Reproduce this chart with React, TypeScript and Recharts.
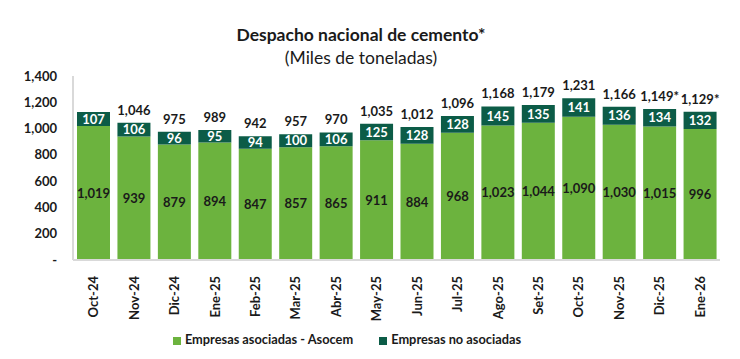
import { BarChart, Bar, XAxis, YAxis, LabelList, Legend } from 'recharts';

const months = ['Oct-24', 'Nov-24', 'Dic-24', 'Ene-25', 'Feb-25', 'Mar-25', 'Abr-25', 'May-25', 'Jun-25', 'Jul-25', 'Ago-25', 'Set-25', 'Oct-25', 'Nov-25', 'Dic-25', 'Ene-26'];
const asociadas = [1019, 939, 879, 894, 847, 857, 865, 911, 884, 968, 1023, 1044, 1090, 1030, 1015, 996];
const noAsociadas = [107, 106, 96, 95, 94, 100, 106, 125, 128, 128, 145, 135, 141, 136, 134, 132];
const totalLabels = ['', '1,046', '975', '989', '942', '957', '970', '1,035', '1,012', '1,096', '1,168', '1,179', '1,231', '1,166', '1,149*', '1,129*'];
const yTicks = [0, 200, 400, 600, 800, 1000, 1200, 1400];

const LIGHT = '#6cb33e';
const DARK = '#0c5c47';
const TEXT = '#1a1a1a';
const FONT = 'Lato, "Noto Sans", sans-serif';

const data = months.map((m, i) => ({
  month: m,
  asociadas: asociadas[i],
  noAsociadas: noAsociadas[i],
  total: totalLabels[i],
}));

const fmt = (v: any) => Number(v).toLocaleString('en-US');

function MonthTick({ x, y, payload }: any) {
  return (
    <text
      x={x}
      y={y}
      transform={`rotate(-90, ${x}, ${y}) translate(-8, 5)`}
      textAnchor="end"
      fontSize={13}
      fontWeight={700}
      fill={TEXT}
      fontFamily={FONT}
    >
      {payload.value}
    </text>
  );
}

export default function App() {
  return (
    <div style={{ position: 'absolute', left: 0, top: 0, width: 740, height: 359, background: '#fff', fontFamily: FONT }}>
      <div style={{ position: 'absolute', top: 24, width: 722, textAlign: 'center', fontSize: 17.5, fontWeight: 700, color: TEXT }}>
        Despacho nacional de cemento*
      </div>
      <div style={{ position: 'absolute', top: 47, width: 722, textAlign: 'center', fontSize: 17.5, color: TEXT }}>
        (Miles de toneladas)
      </div>
      <BarChart width={740} height={359} data={data} margin={{ top: 76, right: 20, left: 0, bottom: 23 }}>
        <YAxis
          width={73}
          domain={[0, 1400]}
          ticks={yTicks}
          tickFormatter={(v) => (v === 0 ? '-' : fmt(v))}
          axisLine={{ stroke: '#d9d9d9', strokeWidth: 2 }}
          tickLine={false}
          tickMargin={10}
          tick={{ fill: TEXT, fontSize: 13, fontWeight: 700, fontFamily: FONT }}
        />
        <XAxis
          dataKey="month"
          height={60}
          interval={0}
          axisLine={{ stroke: '#d9d9d9', strokeWidth: 2 }}
          tickLine={false}
          tick={<MonthTick />}
        />
        <Legend
          iconType="square"
          iconSize={8}
          wrapperStyle={{ fontFamily: FONT, fontSize: 12.8, fontWeight: 700, bottom: 12 }}
          formatter={(value) => <span style={{ color: TEXT, marginRight: 16 }}>{value}</span>}
        />
        <Bar dataKey="asociadas" name="Empresas asociadas - Asocem" stackId="a" fill={LIGHT} barSize={33} isAnimationActive={false}>
          <LabelList dataKey="asociadas" position="center" formatter={fmt} fill={TEXT} fontSize={13} fontWeight={700} fontFamily={FONT} />
        </Bar>
        <Bar dataKey="noAsociadas" name="Empresas no asociadas" stackId="a" fill={DARK} barSize={33} isAnimationActive={false}>
          <LabelList dataKey="noAsociadas" position="center" fill="#ffffff" fontSize={13} fontWeight={700} fontFamily={FONT} />
          <LabelList dataKey="total" position="top" offset={8} fill={TEXT} fontSize={13} fontWeight={700} fontFamily={FONT} />
        </Bar>
      </BarChart>
    </div>
  );
}
